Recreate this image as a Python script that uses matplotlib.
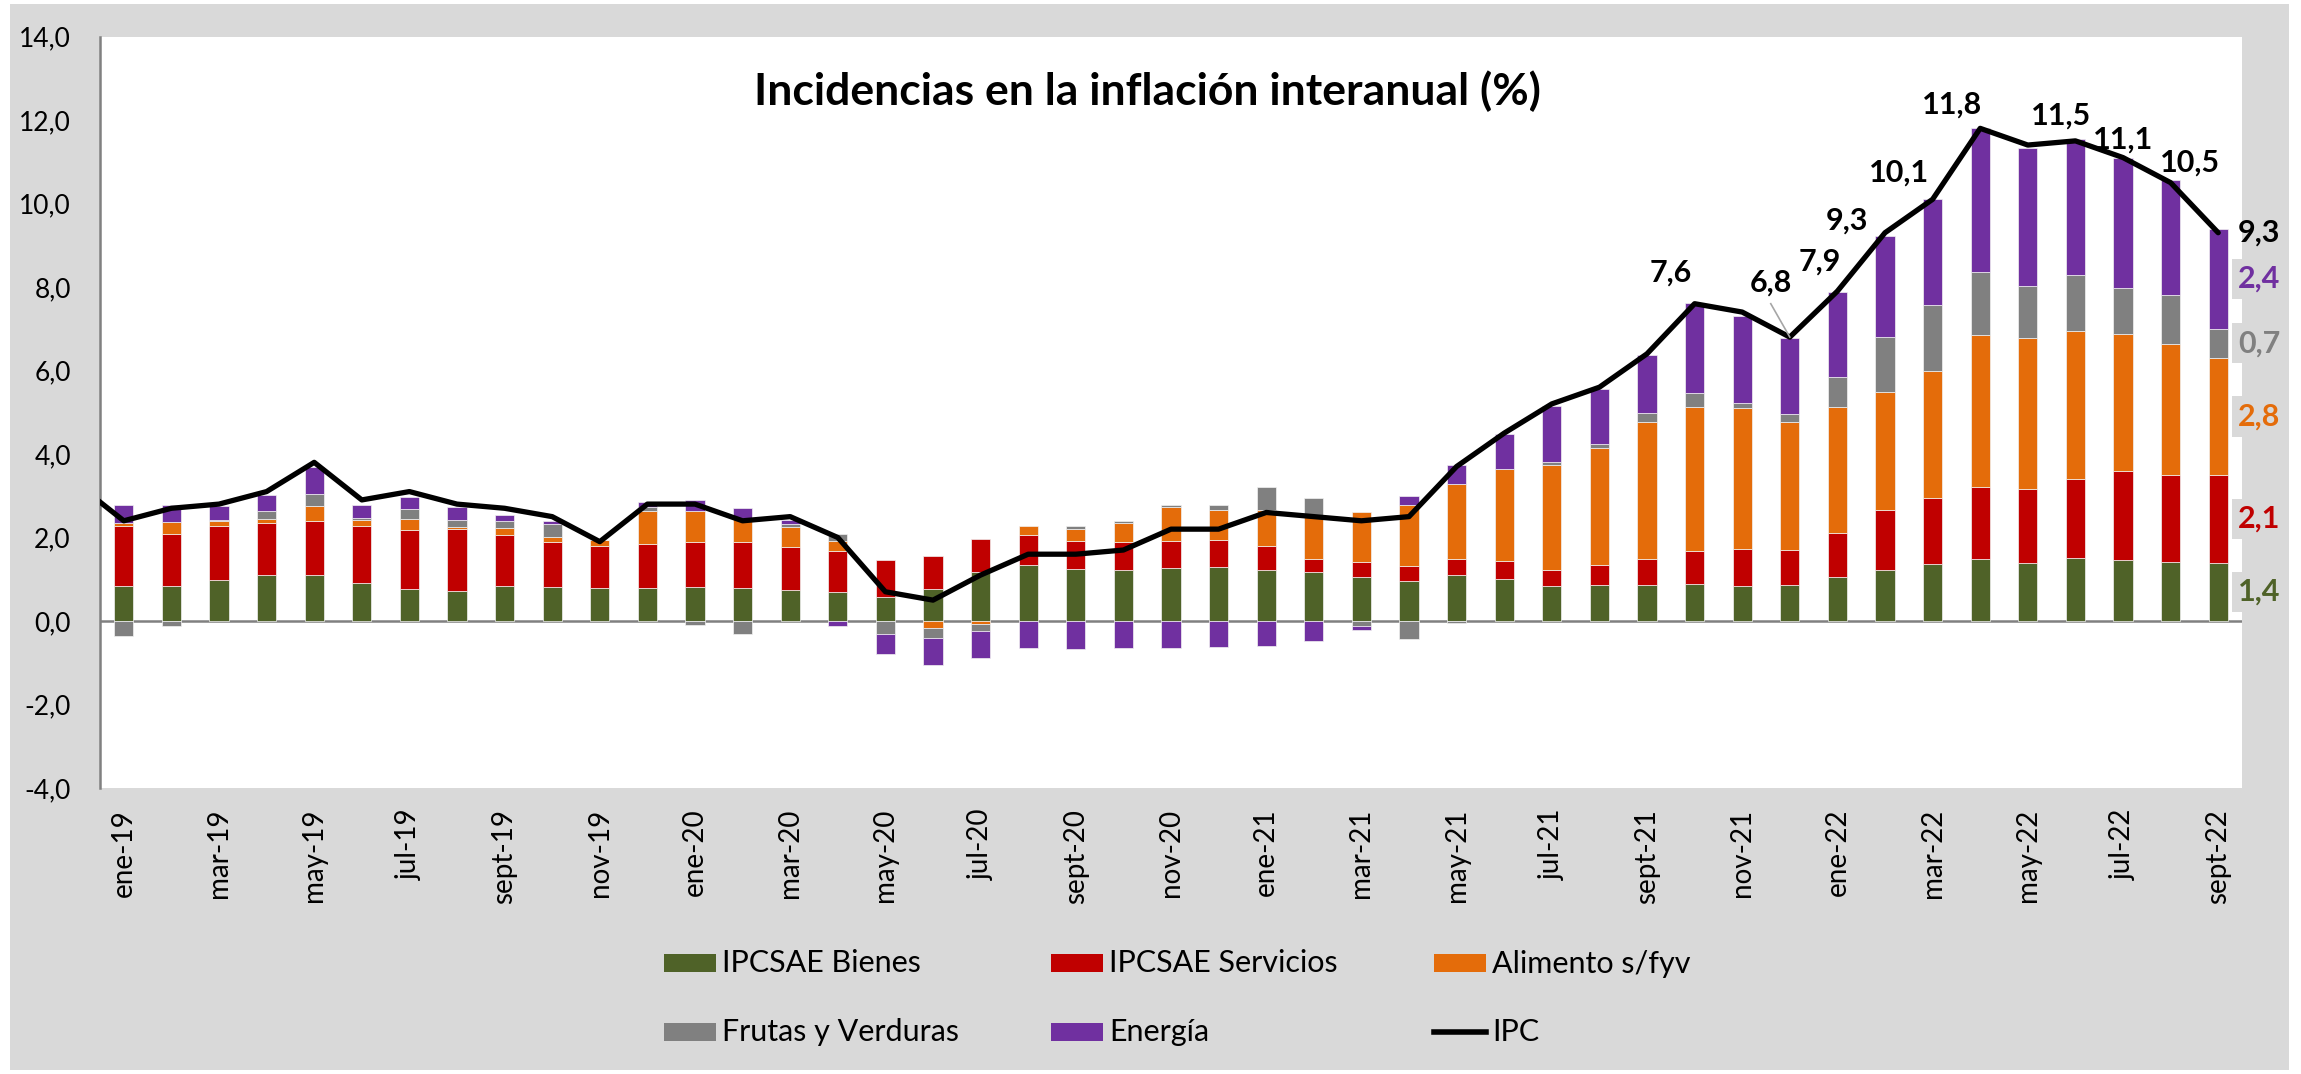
import numpy as np
import matplotlib
matplotlib.use("Agg")
from matplotlib import pyplot as plt
from matplotlib.patches import Rectangle
from matplotlib.lines import Line2D

plt.rcParams['font.family'] = ['Lato', 'DejaVu Sans']

W, H = 2301, 1074
fondo = "#D9D9D9"

meses = [
    "ene-19", "feb-19", "mar-19", "abr-19", "may-19", "jun-19", "jul-19", "ago-19", "sept-19", "oct-19", "nov-19", "dic-19",
    "ene-20", "feb-20", "mar-20", "abr-20", "may-20", "jun-20", "jul-20", "ago-20", "sept-20", "oct-20", "nov-20", "dic-20",
    "ene-21", "feb-21", "mar-21", "abr-21", "may-21", "jun-21", "jul-21", "ago-21", "sept-21", "oct-21", "nov-21", "dic-21",
    "ene-22", "feb-22", "mar-22", "abr-22", "may-22", "jun-22", "jul-22", "ago-22", "sept-22",
]

# incidencias (puntos porcentuales)
bienes = [0.85, 0.83, 0.99, 1.09, 1.09, 0.92, 0.77, 0.72, 0.85, 0.81, 0.79, 0.80,
          0.81, 0.79, 0.75, 0.69, 0.57, 0.77, 1.17, 1.35, 1.24, 1.21, 1.28, 1.29,
          1.23, 1.18, 1.05, 0.97, 1.10, 1.01, 0.85, 0.87, 0.87, 0.89, 0.83, 0.86,
          1.06, 1.22, 1.37, 1.49, 1.39, 1.50, 1.45, 1.41, 1.4]
servicios = [1.42, 1.25, 1.29, 1.25, 1.31, 1.35, 1.40, 1.48, 1.20, 1.08, 1.01, 1.04,
             1.08, 1.10, 1.02, 0.99, 0.90, 0.79, 0.79, 0.70, 0.68, 0.68, 0.64, 0.64,
             0.56, 0.30, 0.36, 0.34, 0.39, 0.43, 0.37, 0.48, 0.62, 0.79, 0.89, 0.85,
             1.04, 1.43, 1.57, 1.71, 1.77, 1.89, 2.15, 2.08, 2.1]
alimentos = [0.08, 0.30, 0.11, 0.11, 0.36, 0.16, 0.27, 0.04, 0.18, 0.12, 0.13, 0.79,
             0.74, 0.56, 0.47, 0.24, 0.00, -0.17, -0.08, 0.23, 0.28, 0.46, 0.81, 0.74,
             0.88, 1.01, 1.20, 1.46, 1.80, 2.21, 2.52, 2.80, 3.28, 3.45, 3.39, 3.05,
             3.03, 2.83, 3.04, 3.64, 3.61, 3.55, 3.27, 3.14, 2.8]
frutas = [-0.36, -0.11, 0.04, 0.18, 0.27, 0.03, 0.25, 0.19, 0.17, 0.31, 0.00, 0.10,
          -0.10, -0.30, 0.08, 0.17, -0.30, -0.24, -0.15, 0.00, 0.08, 0.04, 0.06, 0.12,
          0.53, 0.45, -0.13, -0.42, -0.05, 0.00, 0.08, 0.10, 0.21, 0.33, 0.10, 0.21,
          0.72, 1.33, 1.59, 1.53, 1.25, 1.35, 1.11, 1.18, 0.7]
energia = [0.44, 0.39, 0.32, 0.38, 0.67, 0.33, 0.28, 0.30, 0.15, 0.07, 0.02, 0.12,
           0.26, 0.26, 0.09, -0.12, -0.50, -0.64, -0.65, -0.65, -0.66, -0.65, -0.64, -0.63,
           -0.61, -0.49, -0.08, 0.22, 0.45, 0.84, 1.32, 1.31, 1.38, 2.15, 2.10, 1.80,
           2.03, 2.42, 2.54, 3.45, 3.32, 3.26, 3.12, 2.75, 2.4]

ipc_dic18 = 3.3
ipc = [2.4, 2.7, 2.8, 3.1, 3.8, 2.9, 3.1, 2.8, 2.7, 2.5, 1.9, 2.8,
       2.8, 2.4, 2.5, 2.0, 0.7, 0.5, 1.1, 1.6, 1.6, 1.7, 2.2, 2.2,
       2.6, 2.5, 2.4, 2.5, 3.7, 4.5, 5.2, 5.6, 6.4, 7.6, 7.4, 6.8,
       7.9, 9.3, 10.1, 11.8, 11.4, 11.5, 11.1, 10.5, 9.3]

nombres = ["IPCSAE Bienes", "IPCSAE Servicios", "Alimento s/fyv", "Frutas y Verduras", "Energía"]
colores = ["#4F6228", "#C00000", "#E46C0A", "#808080", "#7030A0"]
series = [bienes, servicios, alimentos, frutas, energia]

# posición (dx, dy) de las etiquetas del IPC respecto al punto
etiquetas_ipc = {33: (-0.5, 0.75), 35: (-0.4, 1.3), 36: (-0.37, 0.72), 37: (-0.8, 0.3),
                 38: (-0.7, 0.63), 39: (-0.6, 0.57), 41: (-0.3, 0.6), 42: (0.0, 0.42),
                 43: (0.4, 0.48), 44: (0.85, 0.0)}


def fmt(v):
    return f"{v:.1f}".replace(".", ",")


fig = plt.figure(figsize=(W / 100, H / 100), dpi=100, facecolor="white")
fig.patches.append(Rectangle((10 / W, 4 / H), 2279 / W, 1066 / H, transform=fig.transFigure,
                             facecolor=fondo, edgecolor="none", zorder=-10))

ax = fig.add_axes([100 / W, 286 / H, 2142 / W, 751.5 / H])
ax.set_facecolor("white")

x = np.arange(len(meses))
ancho = 0.4
base_pos = np.zeros(len(x))
base_neg = np.zeros(len(x))
for vals, color in zip(series, colores):
    v = np.array(vals)
    pos = np.where(v > 0, v, 0.0)
    neg = np.where(v < 0, v, 0.0)
    m = pos > 0
    ax.bar(x[m], pos[m], ancho, bottom=base_pos[m], color=color, edgecolor="#f2f2f2", linewidth=0.5, zorder=2)
    m = neg < 0
    ax.bar(x[m], neg[m], ancho, bottom=base_neg[m], color=color, edgecolor="#f2f2f2", linewidth=0.5, zorder=2)
    base_pos += pos
    base_neg += neg

ax.axhline(0, color="#808080", lw=1.8, zorder=1)

ax.plot(np.r_[-1, x], np.r_[ipc_dic18, ipc], color="black", lw=3.8,
        solid_joinstyle="round", solid_capstyle="round", zorder=5)

for i, (dx, dy) in etiquetas_ipc.items():
    ax.text(x[i] + dx, ipc[i] + dy, fmt(ipc[i]), ha="center", va="center",
            fontsize=22, fontweight="bold", color="black", zorder=6)
# línea guía de la etiqueta de dic-21
ax.plot([x[35] - 0.4, x[35]], [ipc[35] + 0.8, ipc[35]], color="#A6A6A6", lw=1.2, zorder=6)

# incidencias del último mes
ult = len(x) - 1
acum = 0.0
for vals, color in zip(series, colores):
    v = vals[ult]
    ax.text(x[ult] + 0.42, acum + v / 2, fmt(v), ha="left", va="center", fontsize=22,
            fontweight="bold", color=color, zorder=7,
            bbox=dict(boxstyle="square,pad=0.2", facecolor=fondo, edgecolor="none"))
    acum += v

ax.set_xlim(-0.5, len(x) - 0.5)
ax.set_ylim(-4, 14)
yt = np.arange(-4, 15, 2)
ax.set_yticks(yt)
ax.set_yticklabels([fmt(v) for v in yt], fontsize=19)
ax.set_xticks(x[::2])
ax.set_xticklabels(meses[::2], rotation=90, fontsize=20)
ax.tick_params(axis="y", length=0, pad=21)
ax.tick_params(axis="x", length=0, pad=15)
for s in ["top", "right", "bottom"]:
    ax.spines[s].set_visible(False)
ax.spines["left"].set_color("#808080")
ax.spines["left"].set_linewidth(1.8)

fig.text(1147 / W, 1 - 105 / H, "Incidencias en la inflación interanual (%)", ha="center",
         va="baseline", fontsize=32, fontweight="bold")

# leyenda
col_x = [664, 1051, 1434]
fila_y = [963, 1031.5]
entradas = list(zip(nombres, colores)) + [("IPC", None)]
for k, (nombre, color) in enumerate(entradas):
    cx = col_x[k % 3]
    cy = fila_y[k // 3]
    if color is None:
        fig.lines.append(Line2D([cx / W, (cx + 52) / W], [1 - cy / H, 1 - cy / H], color="black",
                                lw=4, transform=fig.transFigure))
    else:
        fig.patches.append(Rectangle((cx / W, 1 - (cy + 9) / H), 52 / W, 18 / H, facecolor=color,
                                     edgecolor="none", transform=fig.transFigure))
    fig.text((cx + 58) / W, 1 - (cy + 9.5) / H, nombre, ha="left", va="baseline", fontsize=22)

fig.savefig("out.png", dpi=100, facecolor=fig.get_facecolor())
